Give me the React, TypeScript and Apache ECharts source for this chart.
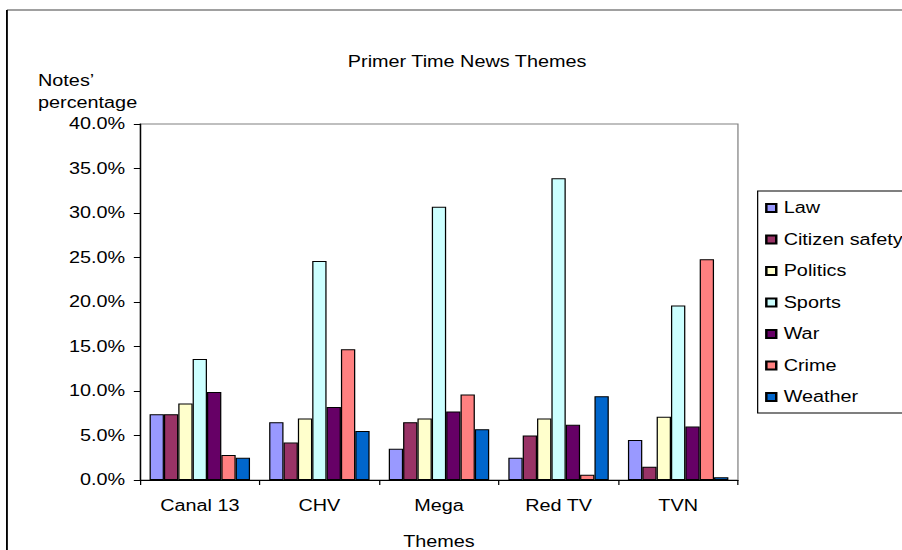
import React, { useEffect, useRef } from "react";
import * as echarts from "echarts";

// Channels and themes
const channels = ["Canal 13", "CHV", "Mega", "Red TV", "TVN"];
const themes = ["Law", "Citizen safety", "Politics", "Sports", "War", "Crime", "Weather"];
const themeColors = ["#9999FF", "#993366", "#FFFFCC", "#CCFFFF", "#660066", "#FF8080", "#0066CC"];

// Share of news notes per theme (%), one array per theme, ordered by channel
const law = [7.4, 6.5, 3.5, 2.5, 4.5];
const citizenSafety = [7.4, 4.2, 6.5, 5.0, 1.5];
const politics = [8.6, 6.9, 6.9, 6.9, 7.1];
const sports = [13.6, 24.6, 30.7, 33.9, 19.6];
const war = [9.9, 8.2, 7.7, 6.2, 6.0];
const crime = [2.8, 14.7, 9.6, 0.6, 24.8];
const weather = [2.5, 5.5, 5.7, 9.4, 0.3];

const themeValues = [law, citizenSafety, politics, sports, war, crime, weather];

// Value axis ticks (%)
const yMin = 0;
const yMax = 40;
const yStep = 5;

const FONT = "'Liberation Sans', Arial, sans-serif";
// The drawing is laid out on a narrower canvas and widened horizontally.
const BASE_W = 728;
const H = 550;
const STRETCH = 902 / BASE_W;

export default function App() {
  const ref = useRef<HTMLDivElement>(null);

  useEffect(() => {
    if (!ref.current) return;
    const chart = echarts.init(ref.current, undefined, { renderer: "svg" });

    const plotLeft = 113;
    const plotRight = 595.6;
    const plotTop = 124;
    const plotBottom = 480;

    const label = (text: string, x: number, y: number, align: string) => ({
      type: "text",
      silent: true,
      style: {
        text,
        x,
        y,
        fontFamily: FONT,
        fontSize: 16,
        fill: "#000",
        align,
        verticalAlign: "middle",
      },
    });

    chart.setOption({
      animation: false,
      backgroundColor: "#ffffff",
      textStyle: { fontFamily: FONT, color: "#000" },
      grid: {
        left: plotLeft,
        right: BASE_W - plotRight,
        top: plotTop,
        bottom: H - plotBottom,
        show: true,
        borderColor: "#808080",
        borderWidth: 1,
        backgroundColor: "transparent",
      },
      legend: {
        orient: "vertical",
        left: 611.5,
        top: 191,
        data: themes,
        icon: "rect",
        itemWidth: 8,
        itemHeight: 8,
        itemGap: 15.5,
        padding: [9, 6, 8, 6],
        borderColor: "#000",
        borderWidth: 1,
        backgroundColor: "#fff",
        textStyle: { fontFamily: FONT, fontSize: 16, color: "#000", padding: [0, 0, 0, 1] },
      },
      xAxis: {
        type: "category",
        data: channels,
        axisLine: { lineStyle: { color: "#000", width: 1 } },
        axisTick: { show: true, length: 5, interval: 0, lineStyle: { color: "#000" } },
        axisLabel: { fontFamily: FONT, fontSize: 16, color: "#000", margin: 18 },
        splitLine: { show: false },
      },
      yAxis: {
        type: "value",
        min: yMin,
        max: yMax,
        interval: yStep,
        axisLine: { show: true, lineStyle: { color: "#000", width: 1 } },
        axisTick: { show: true, length: 5, lineStyle: { color: "#000" } },
        axisLabel: {
          fontFamily: FONT,
          fontSize: 16,
          color: "#000",
          margin: 12,
          formatter: (v: number) => v.toFixed(1) + "%",
        },
        splitLine: { show: false },
      },
      series: themes.map((name, i) => ({
        name,
        type: "bar",
        data: themeValues[i],
        barGap: "0%",
        barCategoryGap: "16%",
        itemStyle: { color: themeColors[i], borderColor: "#000", borderWidth: 1 },
      })),
      graphic: [
        {
          type: "line",
          silent: true,
          shape: { x1: 5.6, y1: 10, x2: BASE_W, y2: 10 },
          style: { stroke: "#808080", lineWidth: 1.5 },
          z: 0,
        },
        {
          type: "line",
          silent: true,
          shape: { x1: 5.6, y1: 10, x2: 5.6, y2: H },
          style: { stroke: "#000", lineWidth: 1.5 },
          z: 0,
        },
        label("Primer Time News Themes", 377, 62, "center"),
        label("Notes’", 30.7, 81, "left"),
        label("percentage", 30.7, 103, "left"),
        label("Themes", (plotLeft + plotRight) / 2, 542, "center"),
      ],
    });

    return () => chart.dispose();
  }, []);

  return (
    <div
      ref={ref}
      style={{
        position: "fixed",
        left: 0,
        top: 0,
        width: BASE_W,
        height: H,
        transform: `scaleX(${STRETCH})`,
        transformOrigin: "0 0",
      }}
    />
  );
}
